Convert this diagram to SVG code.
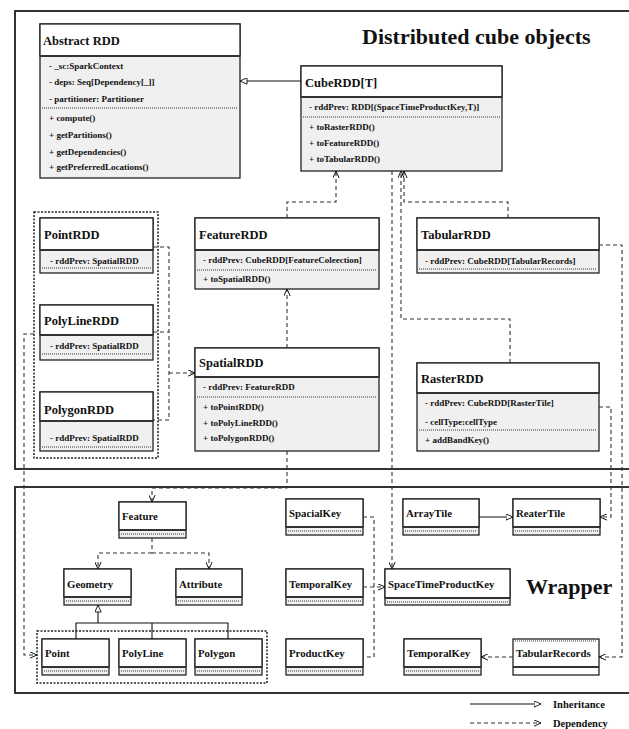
<svg xmlns="http://www.w3.org/2000/svg" width="629" height="729" viewBox="0 0 629 729">
<style>
text{font-family:"Liberation Serif","Times New Roman",serif;font-weight:bold;fill:#111}
.t{font-size:12.5px}
.a{font-size:9px}
.s{font-size:10.8px}
.big{font-size:22px}
.lg{font-size:10.5px}
.box{fill:#f0f0f0;stroke:#222;stroke-width:1.3}
.hdr{fill:#fff;stroke:#222;stroke-width:1.3}
.wb{fill:#fff;stroke:#222;stroke-width:1.3}
.dv{stroke:#333;stroke-width:2}
.dt{stroke:#333;stroke-width:1;stroke-dasharray:1 1}
.frame{fill:none;stroke:#333;stroke-width:2}
.grp{fill:none;stroke:#222;stroke-width:1.5;stroke-dasharray:2 1.5}
.dep{fill:none;stroke:#333;stroke-width:1.1;stroke-dasharray:4 3}
.inh{fill:none;stroke:#111;stroke-width:1.1}
</style>
<defs>
<marker id="tri" viewBox="0 0 10 10" refX="10" refY="5" markerWidth="8" markerHeight="7" markerUnits="userSpaceOnUse" orient="auto">
<path d="M0,0.5 L10,5 L0,9.5 z" fill="#fff" stroke="#111" stroke-width="1.3"/>
</marker>
<marker id="opn" viewBox="0 0 10 10" refX="10" refY="5" markerWidth="7" markerHeight="7" markerUnits="userSpaceOnUse" orient="auto">
<path d="M0,0.5 L10,5 L0,9.5" fill="none" stroke="#111" stroke-width="1.4"/>
</marker>
</defs>
<rect width="629" height="729" fill="#fff"/>
<g id="frames">
<path class="frame" d="M640,11 H15 V469 H640"/>
<path class="frame" d="M640,487 H15 V693 H640"/>
<text class="big" x="362" y="44">Distributed cube objects</text>
<text class="big" x="526" y="594">Wrapper</text>
</g>
<g id="groups">
<rect class="grp" x="34" y="212" width="124" height="246"/>
<rect class="grp" x="37" y="631" width="230" height="52"/>
</g>
<g id="AbstractRDD">
<rect class="box" x="40" y="24" width="200" height="154"/>
<rect class="hdr" x="40" y="24" width="200" height="32"/>
<line class="dv" x1="40" y1="56" x2="240" y2="56"/>
<text class="t" x="43" y="45">Abstract RDD</text>
<text class="a" x="49" y="69">- _sc:SparkContext</text>
<text class="a" x="49" y="85">- deps: Seq[Dependency[_]]</text>
<text class="a" x="49" y="102">- partitioner: Partitioner</text>
<line class="dt" x1="42" y1="108" x2="238" y2="108"/>
<text class="a" x="49" y="121">+ compute()</text>
<text class="a" x="49" y="138">+ getPartitions()</text>
<text class="a" x="49" y="155">+ getDependencies()</text>
<text class="a" x="49" y="170">+ getPreferredLocations()</text>
</g>
<g id="CubeRDD">
<rect class="box" x="301" y="66" width="201" height="105"/>
<rect class="hdr" x="301" y="66" width="201" height="31"/>
<line class="dv" x1="301" y1="97" x2="502" y2="97"/>
<text class="t" x="305" y="87">CubeRDD[T]</text>
<text class="a" x="309" y="110">- rddPrev: RDD[(SpaceTimeProductKey,T)]</text>
<line class="dt" x1="303" y1="117" x2="500" y2="117"/>
<text class="a" x="309" y="130">+ toRasterRDD()</text>
<text class="a" x="309" y="146">+ toFeatureRDD()</text>
<text class="a" x="309" y="162">+ toTabularRDD()</text>
</g>
<g id="PointRDD">
<rect class="box" x="40" y="218" width="113" height="55"/>
<rect class="hdr" x="40" y="218" width="113" height="32"/>
<line class="dv" x1="40" y1="250" x2="153" y2="250"/>
<text class="t" x="44" y="239">PointRDD</text>
<text class="a" x="50" y="264">- rddPrev: SpatialRDD</text>
<line class="dt" x1="42" y1="268" x2="151" y2="268"/>
</g>
<g id="PolyLineRDD">
<rect class="box" x="40" y="305" width="113" height="55"/>
<rect class="hdr" x="40" y="305" width="113" height="30"/>
<line class="dv" x1="40" y1="335" x2="153" y2="335"/>
<text class="t" x="44" y="325">PolyLineRDD</text>
<text class="a" x="50" y="349">- rddPrev: SpatialRDD</text>
<line class="dt" x1="42" y1="354" x2="151" y2="354"/>
</g>
<g id="PolygonRDD">
<rect class="box" x="40" y="392" width="113" height="59"/>
<rect class="hdr" x="40" y="392" width="113" height="29"/>
<line class="dv" x1="40" y1="421" x2="153" y2="421"/>
<text class="t" x="44" y="414">PolygonRDD</text>
<text class="a" x="50" y="441">- rddPrev: SpatialRDD</text>
<line class="dt" x1="42" y1="447" x2="151" y2="447"/>
</g>
<g id="FeatureRDD">
<rect class="box" x="195" y="218" width="184" height="71"/>
<rect class="hdr" x="195" y="218" width="184" height="32"/>
<line class="dv" x1="195" y1="250" x2="379" y2="250"/>
<text class="t" x="199" y="239">FeatureRDD</text>
<text class="a" x="203" y="263">- rddPrev: CubeRDD[FeatureColeection]</text>
<line class="dt" x1="197" y1="270" x2="377" y2="270"/>
<text class="a" x="203" y="282">+ toSpatialRDD()</text>
</g>
<g id="SpatialRDD">
<rect class="box" x="195" y="348" width="184" height="103"/>
<rect class="hdr" x="195" y="348" width="184" height="29"/>
<line class="dv" x1="195" y1="377" x2="379" y2="377"/>
<text class="t" x="199" y="367">SpatialRDD</text>
<text class="a" x="203" y="390">- rddPrev: FeatureRDD</text>
<line class="dt" x1="197" y1="397" x2="377" y2="397"/>
<text class="a" x="203" y="410">+ toPointRDD()</text>
<text class="a" x="203" y="426">+ toPolyLineRDD()</text>
<text class="a" x="203" y="441">+ toPolygonRDD()</text>
</g>
<g id="TabularRDD">
<rect class="box" x="417" y="218" width="182" height="55"/>
<rect class="hdr" x="417" y="218" width="182" height="32"/>
<line class="dv" x1="417" y1="250" x2="599" y2="250"/>
<text class="t" x="421" y="239">TabularRDD</text>
<text class="a" x="425" y="264">- rddPrev: CubeRDD[TabularRecords]</text>
<line class="dt" x1="419" y1="269" x2="597" y2="269"/>
</g>
<g id="RasterRDD">
<rect class="box" x="417" y="363" width="182" height="88"/>
<rect class="hdr" x="417" y="363" width="182" height="30"/>
<line class="dv" x1="417" y1="393" x2="599" y2="393"/>
<text class="t" x="421" y="383">RasterRDD</text>
<text class="a" x="425" y="406">- rddPrev: CubeRDD[RasterTile]</text>
<text class="a" x="425" y="425">- cellType:cellType</text>
<line class="dt" x1="419" y1="430" x2="597" y2="430"/>
<text class="a" x="425" y="443">+ addBandKey()</text>
</g>
<g id="Feature">
<rect class="box" x="119" y="502" width="67" height="36"/>
<rect class="hdr" x="119" y="502" width="67" height="28"/>
<line class="dv" x1="119" y1="530" x2="186" y2="530"/>
<line class="dt" x1="121" y1="534" x2="184" y2="534"/>
<text class="s" x="122" y="520">Feature</text>
</g>
<g id="Geometry">
<rect class="box" x="64" y="569" width="67" height="36"/>
<rect class="hdr" x="64" y="569" width="67" height="28"/>
<line class="dv" x1="64" y1="597" x2="131" y2="597"/>
<line class="dt" x1="66" y1="601" x2="129" y2="601"/>
<text class="s" x="67" y="588">Geometry</text>
</g>
<g id="Attribute">
<rect class="box" x="176" y="569" width="66" height="36"/>
<rect class="hdr" x="176" y="569" width="66" height="28"/>
<line class="dv" x1="176" y1="597" x2="242" y2="597"/>
<line class="dt" x1="178" y1="601" x2="240" y2="601"/>
<text class="s" x="179" y="588">Attribute</text>
</g>
<g id="Point">
<rect class="box" x="42" y="639" width="67" height="36"/>
<rect class="hdr" x="42" y="639" width="67" height="28"/>
<line class="dv" x1="42" y1="667" x2="109" y2="667"/>
<line class="dt" x1="44" y1="671" x2="107" y2="671"/>
<text class="s" x="45" y="657">Point</text>
</g>
<g id="PolyLine">
<rect class="box" x="119" y="639" width="67" height="36"/>
<rect class="hdr" x="119" y="639" width="67" height="28"/>
<line class="dv" x1="119" y1="667" x2="186" y2="667"/>
<line class="dt" x1="121" y1="671" x2="184" y2="671"/>
<text class="s" x="122" y="657">PolyLine</text>
</g>
<g id="Polygon">
<rect class="box" x="195" y="639" width="67" height="36"/>
<rect class="hdr" x="195" y="639" width="67" height="28"/>
<line class="dv" x1="195" y1="667" x2="262" y2="667"/>
<line class="dt" x1="197" y1="671" x2="260" y2="671"/>
<text class="s" x="198" y="657">Polygon</text>
</g>
<g id="SpacialKey">
<rect class="box" x="286" y="499" width="77" height="36"/>
<rect class="hdr" x="286" y="499" width="77" height="28"/>
<line class="dv" x1="286" y1="527" x2="363" y2="527"/>
<line class="dt" x1="288" y1="531" x2="361" y2="531"/>
<text class="s" x="289" y="517">SpacialKey</text>
</g>
<g id="TemporalKey">
<rect class="box" x="286" y="569" width="77" height="36"/>
<rect class="hdr" x="286" y="569" width="77" height="28"/>
<line class="dv" x1="286" y1="597" x2="363" y2="597"/>
<line class="dt" x1="288" y1="601" x2="361" y2="601"/>
<text class="s" x="289" y="588">TemporalKey</text>
</g>
<g id="ProductKey">
<rect class="box" x="286" y="639" width="77" height="36"/>
<rect class="hdr" x="286" y="639" width="77" height="28"/>
<line class="dv" x1="286" y1="667" x2="363" y2="667"/>
<line class="dt" x1="288" y1="671" x2="361" y2="671"/>
<text class="s" x="289" y="657">ProductKey</text>
</g>
<g id="SpaceTimeProductKey">
<rect class="box" x="385" y="569" width="125" height="36"/>
<rect class="hdr" x="385" y="569" width="125" height="29"/>
<line class="dv" x1="385" y1="598" x2="510" y2="598"/>
<line class="dt" x1="387" y1="602" x2="508" y2="602"/>
<text class="s" x="388" y="588">SpaceTimeProductKey</text>
</g>
<g id="ArrayTile">
<rect class="box" x="403" y="499" width="76" height="36"/>
<rect class="hdr" x="403" y="499" width="76" height="28"/>
<line class="dv" x1="403" y1="527" x2="479" y2="527"/>
<line class="dt" x1="405" y1="531" x2="477" y2="531"/>
<text class="s" x="406" y="517">ArrayTile</text>
</g>
<g id="ReaterTile">
<rect class="box" x="513" y="499" width="87" height="36"/>
<rect class="hdr" x="513" y="499" width="87" height="28"/>
<line class="dv" x1="513" y1="527" x2="600" y2="527"/>
<line class="dt" x1="515" y1="531" x2="598" y2="531"/>
<text class="s" x="516" y="517">ReaterTile</text>
</g>
<g id="TemporalKey2">
<rect class="box" x="404" y="639" width="77" height="36"/>
<rect class="hdr" x="404" y="639" width="77" height="28"/>
<line class="dv" x1="404" y1="667" x2="481" y2="667"/>
<line class="dt" x1="406" y1="671" x2="479" y2="671"/>
<text class="s" x="407" y="657">TemporalKey</text>
</g>
<g id="TabularRecords">
<rect class="wb" x="513" y="639" width="86" height="36"/>
<line class="dt" x1="515" y1="641" x2="597" y2="641"/>
<line class="dv" x1="513" y1="667" x2="599" y2="667"/>
<text class="s" x="516" y="657">TabularRecords</text>
</g>
<g id="connectors">
<path class="inh" d="M301,81 H240" marker-end="url(#tri)"/>
<path class="dep" d="M287,218 V202 H336 V171" marker-end="url(#opn)"/>
<path class="dep" d="M508,218 V202 H404 V171" marker-end="url(#opn)"/>
<path class="dep" d="M510,363 V319 H401 V171" marker-end="url(#opn)"/>
<path class="dep" d="M392,171 V569" marker-end="url(#opn)"/>
<path class="dep" d="M287,348 V289" marker-end="url(#opn)"/>
<path class="dep" d="M153,247 H169 V420 H153"/>
<path class="dep" d="M153,332 H169"/>
<path class="dep" d="M169,373 H195" marker-end="url(#opn)"/>
<path class="dep" d="M287,451 V488 H152 V502" marker-end="url(#opn)"/>
<path class="dep" d="M34,334 H24 V655 H37" marker-end="url(#opn)"/>
<path class="dep" d="M152,538 V553"/>
<path class="dep" d="M152,553 H98 V569" marker-end="url(#opn)"/>
<path class="dep" d="M152,553 H209 V569" marker-end="url(#opn)"/>
<path class="inh" d="M98,623 V605" stroke-width="2" marker-end="url(#tri)"/>
<path class="inh" d="M76,639 V623 H228 V639"/>
<path class="inh" d="M152,623 V639"/>
<path class="dep" d="M363,517 H374 V657 H363"/>
<path class="dep" d="M363,587 H385" marker-end="url(#opn)"/>
<path class="inh" d="M479,517 H513" marker-end="url(#tri)"/>
<path class="dep" d="M599,245 H622 V657 H599" marker-end="url(#opn)"/>
<path class="dep" d="M599,407 H611 V517 H600" marker-end="url(#opn)"/>
<path class="dep" d="M513,657 H481" marker-end="url(#opn)"/>
</g>
<g id="legend">
<path class="inh" d="M470,704 H541" marker-end="url(#tri)"/>
<text class="lg" x="553" y="708">Inheritance</text>
<path class="dep" d="M470,723 H541" marker-end="url(#opn)"/>
<text class="lg" x="553" y="727">Dependency</text>
</g>
</svg>
